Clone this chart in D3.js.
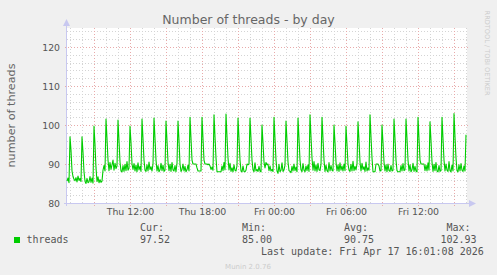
<!DOCTYPE html>
<html>
<head>
<meta charset="utf-8">
<script src="https://cdn.jsdelivr.net/npm/d3@7"></script>
<style>
  html, body { margin: 0; padding: 0; background: #F0F0F0; }
  svg { display: block; }
</style>
</head>
<body>
<svg id="chart" width="497" height="275"></svg>
<script>
// ---- data ----
const title = "Number of threads - by day";
const yLabel = "number of threads";
const seriesName = "threads";
const startTime = new Date(2026, 3, 16, 6, 45); // Thu 06:45, one point every 5 minutes
const endTime = new Date(2026, 3, 17, 16, 5);
const stepMinutes = 5;
const yTicks = [80, 90, 100, 110, 120];
const xTickTimes = [new Date(2026,3,16,12), new Date(2026,3,16,18), new Date(2026,3,17,0), new Date(2026,3,17,6), new Date(2026,3,17,12)];
const legendHeads = ["Cur:", "Min:", "Avg:", "Max:"];
const legendValues = ["97.52", "85.00", "90.75", "102.93"];
const lastUpdate = "Last update: Fri Apr 17 16:01:08 2026";
const threads = [
  85.6, 86.4, 85.2,
  97.0, 93.5, 88.2, 86.8, 86.1, 85.7, 86.5, 85.4, 86.9, 85.8, 86.3, 85.5,
  97.0, 93.0, 88.0, 85.6, 85.0, 86.3, 85.2, 85.4, 86.8, 85.3, 86.4, 85.1,
  99.7, 95.0, 89.0, 85.5, 86.7, 85.2, 86.0, 85.3, 85.6, 88.4, 89.6, 88.2,
  101.5, 96.5, 91.0, 88.3, 90.4, 88.6, 89.8, 91.0, 88.4, 90.2, 88.8, 89.5,
  101.3, 96.0, 90.5, 88.2, 88.0, 89.6, 88.1, 89.9, 88.3, 90.6, 88.4, 88.9,
  99.7, 95.5, 90.0, 88.6, 90.1, 88.2, 89.7, 88.0, 90.3, 88.5, 89.4, 88.1,
  101.5, 96.5, 91.0, 88.4, 88.1, 89.8, 88.2, 90.5, 88.6, 89.3, 88.2, 90.0,
  101.8, 96.5, 91.0, 88.2, 89.6, 88.0, 88.5, 90.2, 88.3, 89.7, 88.1, 88.4,
  101.0, 96.0, 90.5, 88.3, 89.9, 88.1, 90.4, 88.5, 88.2, 89.6, 88.0, 90.2,
  101.0, 96.0, 90.0, 88.1, 88.6, 90.0, 88.2, 89.4, 88.0, 88.5, 89.7, 88.2,
  102.0, 96.5, 91.0, 90.0, 90.0, 90.0, 90.0, 89.0, 88.2, 88.2, 88.2, 88.2,
  102.0, 96.5, 91.0, 90.0, 90.0, 90.0, 89.8, 90.0, 89.5, 88.6, 89.2, 88.4,
  102.6, 97.0, 91.5, 88.0, 88.0, 88.0, 88.0, 88.0, 89.5, 88.3, 90.4, 88.5,
  102.8, 97.0, 91.5, 88.5, 90.2, 88.1, 89.0, 88.0, 89.8, 88.4, 88.2, 89.6,
  101.8, 96.5, 91.0, 88.2, 88.0, 89.5, 88.1, 88.0, 88.4, 90.0, 89.8, 90.0,
  101.8, 96.5, 91.0, 88.5, 88.0, 90.3, 88.2, 88.6, 88.1, 89.4, 88.2, 88.0,
  100.0, 95.5, 90.5, 89.0, 90.4, 89.8, 90.0, 88.3, 89.5, 88.2, 88.6, 88.1,
  102.0, 96.5, 91.0, 88.2, 87.6, 89.9, 88.0, 88.4, 90.3, 88.1, 88.5, 89.7,
  101.0, 96.0, 90.5, 88.3, 88.1, 87.8, 89.4, 88.2, 90.0, 88.3, 89.2, 88.0,
  101.8, 96.5, 91.0, 88.5, 88.0, 90.1, 88.4, 88.0, 89.5, 88.3, 89.8, 88.1,
  102.6, 97.0, 91.5, 88.4, 90.6, 88.2, 89.8, 88.1, 90.2, 88.5, 88.3, 89.9,
  102.0, 96.5, 91.0, 88.1, 89.7, 88.3, 88.0, 90.4, 88.2, 89.6, 88.4, 88.2,
  100.0, 95.5, 90.5, 88.2, 89.8, 88.1, 90.3, 88.4, 89.5, 88.2, 90.0, 88.3,
  99.7, 95.0, 90.0, 88.4, 88.1, 89.9, 88.2, 90.7, 88.3, 89.4, 88.5, 90.0,
  100.8, 96.0, 90.5, 88.2, 90.2, 88.6, 89.3, 88.1, 90.5, 88.2, 89.0, 88.4,
  102.6, 97.0, 91.5, 88.0, 88.0, 88.0, 90.0, 90.0, 90.0, 89.5, 88.2, 88.3,
  100.0, 95.5, 90.5, 88.2, 89.8, 88.0, 90.0, 88.3, 88.1, 89.6, 88.2, 88.4,
  101.5, 96.5, 91.0, 88.3, 88.0, 88.0, 88.0, 89.6, 88.2, 90.1, 88.3, 88.5,
  101.5, 96.5, 91.0, 88.2, 89.8, 88.0, 88.5, 90.2, 88.1, 89.4, 88.2, 88.0,
  102.0, 96.5, 91.0, 90.0, 90.0, 90.0, 90.0, 88.3, 89.7, 88.2, 90.3, 88.4,
  100.8, 96.0, 90.5, 88.1, 89.9, 88.3, 90.4, 88.2, 88.0, 89.6, 88.1, 88.3,
  102.0, 96.5, 91.0, 88.2, 90.0, 88.4, 88.1, 90.6, 88.3, 88.0, 89.7, 88.2,
  102.93, 97.0, 91.5, 88.3, 88.0, 89.8, 88.2, 90.1, 88.4, 88.1, 89.5, 88.2,
  97.52
];

// ---- layout ----
const L = 67, R = 467, T = 28, B = 203;
const svg = d3.select("#chart");
const x = d3.scaleTime().domain([startTime, endTime]).range([L, R]);
const y = d3.scaleLinear().domain([80, 80 + 175 / 3.9]).range([B, T]);
const points = threads.map((v, i) => ({ t: new Date(startTime.getTime() + i * stepMinutes * 60000), v }));

svg.append("rect").attr("width", 497).attr("height", 275).attr("fill", "#F0F0F0");
svg.append("rect").attr("x", L).attr("y", T).attr("width", R - L).attr("height", B - T).attr("fill", "#FFFFFF");

const grid = svg.append("g").attr("shape-rendering", "crispEdges");
// minor horizontal grid (every 2)
const yMinor = d3.range(82, 125, 2).filter(v => v % 10 !== 0);
grid.selectAll(".hm").data(yMinor).join("line")
  .attr("x1", L).attr("x2", R + 1)
  .attr("y1", d => Math.round(y(d)) + 0.5).attr("y2", d => Math.round(y(d)) + 0.5)
  .attr("stroke", "#D4D4D4").attr("stroke-dasharray", "1,2");
// minor vertical grid (hourly)
const xMinor = d3.timeHour.range(startTime, endTime).filter(d => d.getHours() % 3 !== 0);
grid.selectAll(".vm").data(xMinor).join("line")
  .attr("x1", d => Math.round(x(d)) + 0.5).attr("x2", d => Math.round(x(d)) + 0.5)
  .attr("y1", T).attr("y2", B + 2)
  .attr("stroke", "#D4D4D4").attr("stroke-dasharray", "1,2");
// major horizontal grid
grid.selectAll(".hM").data(yTicks.filter(v => v > 80)).join("line")
  .attr("x1", L - 2).attr("x2", R + 1)
  .attr("y1", d => Math.round(y(d)) + 0.5).attr("y2", d => Math.round(y(d)) + 0.5)
  .attr("stroke", "#E8AAAA").attr("stroke-dasharray", "1,2");
// major vertical grid (every 3 hours)
const xMajor = d3.timeHour.every(3).range(startTime, endTime);
grid.selectAll(".vM").data(xMajor).join("line")
  .attr("x1", d => Math.round(x(d)) + 0.5).attr("x2", d => Math.round(x(d)) + 0.5)
  .attr("y1", T).attr("y2", B + 3)
  .attr("stroke", "#E8AAAA").attr("stroke-dasharray", "1,2");

// axes lines with arrows
const axisColor = "#C8C8F0";
svg.append("line").attr("x1", L - 0.5).attr("x2", L - 0.5).attr("y1", B + 3).attr("y2", 22)
  .attr("stroke", axisColor);
svg.append("path").attr("d", `M${L - 4},${26} L${L - 0.5},${19} L${L + 3},${26} Z`).attr("fill", axisColor);
svg.append("line").attr("x1", L - 3).attr("x2", R + 5).attr("y1", B + 0.5).attr("y2", B + 0.5)
  .attr("stroke", axisColor);
svg.append("path").attr("d", `M${R + 2},${B - 3} L${R + 9},${B + 0.5} L${R + 2},${B + 4} Z`).attr("fill", axisColor);

// data line
const line = d3.line().x(d => x(d.t)).y(d => y(d.v));
svg.append("path").datum(points).attr("d", line)
  .attr("fill", "none").attr("stroke", "#00CC00").attr("stroke-width", 1.1)
  .attr("stroke-linejoin", "round");

// axis labels via d3 axes
const yAxis = svg.append("g").attr("transform", `translate(${L - 7},0)`)
  .call(d3.axisLeft(y).tickValues(yTicks).tickSize(0).tickFormat(d3.format("d")));
yAxis.select(".domain").remove();
yAxis.selectAll("text").attr("fill", "#555").attr("font-family", "DejaVu Sans").attr("font-size", "9.3px").attr("dy", "0.35em").attr("x", 0);

const xAxis = svg.append("g").attr("transform", `translate(0,${B + 4})`)
  .call(d3.axisBottom(x).tickValues(xTickTimes).tickSize(0).tickFormat(d3.timeFormat("%a %H:%M")));
xAxis.select(".domain").remove();
xAxis.selectAll("text").attr("fill", "#555").attr("font-family", "DejaVu Sans").attr("font-size", "9.4px").attr("dy", "0.71em").attr("y", 1);

// title
svg.append("text").attr("x", 248.5).attr("y", 24).attr("text-anchor", "middle")
  .attr("font-family", "DejaVu Sans").attr("font-size", "12.5px").attr("fill", "#666").text(title);
// y label
svg.append("text").attr("transform", `translate(15,${(T + B) / 2}) rotate(-90)`)
  .attr("text-anchor", "middle").attr("font-family", "DejaVu Sans").attr("font-size", "11.2px")
  .attr("fill", "#666").text(yLabel);
// watermark
svg.append("text").attr("transform", "translate(485,53) rotate(90)")
  .attr("text-anchor", "middle").attr("font-family", "DejaVu Sans").attr("font-size", "6.6px")
  .attr("fill", "#CCCCCC").text("RRDTOOL / TOBI OETIKER");

// legend
const mono = "DejaVu Sans Mono";
svg.append("rect").attr("x", 14).attr("y", 237).attr("width", 6).attr("height", 6).attr("fill", "#00CC00");
svg.append("text").attr("x", 26.5).attr("y", 242.5).attr("font-family", mono).attr("font-size", "10px")
  .attr("fill", "#555").text(seriesName);
const colX = [140, 242, 344, 446.5];
svg.selectAll(".lh").data(legendHeads).join("text")
  .attr("x", (d, i) => colX[i]).attr("y", 230.5).attr("font-family", mono).attr("font-size", "10px")
  .attr("fill", "#555").text(d => d);
const valX = [140, 242, 344, 440.5];
svg.selectAll(".lv").data(legendValues).join("text")
  .attr("x", (d, i) => valX[i]).attr("y", 242.5).attr("font-family", mono).attr("font-size", "10px")
  .attr("fill", "#555").text(d => d);
svg.append("text").attr("x", 261).attr("y", 254.5).attr("font-family", mono).attr("font-size", "10px")
  .attr("fill", "#555").text(lastUpdate);
svg.append("text").attr("x", 248).attr("y", 268.5).attr("text-anchor", "middle")
  .attr("font-family", "DejaVu Sans").attr("font-size", "7px").attr("fill", "#CCCCCC").text("Munin 2.0.76");
</script>
</body>
</html>
